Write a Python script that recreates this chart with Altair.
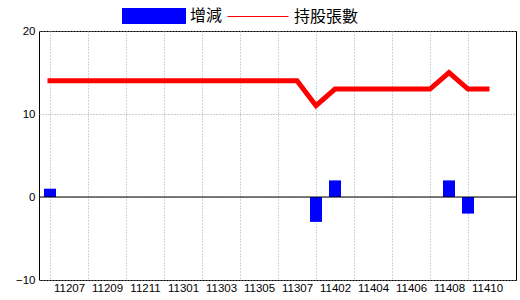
import altair as alt
import pandas as pd

months = ['11206','11207','11208','11209','11210','11211','11212','11301','11302','11303','11304','11305',
          '11306','11307','11401','11402','11403','11404','11405','11406','11407','11408','11409','11410']
changes = [1,0,0,0,0,0,0,0,0,0,0,0,0,0,-3,2,0,0,0,0,0,2,-2,0]
holdings = [14,14,14,14,14,14,14,14,14,14,14,14,14,14,11,13,13,13,13,13,13,15,13,13]
y_ticks = [-10, 0, 10, 20]

df = pd.DataFrame({
    'idx': list(range(len(months))),
    'month': months,
    'change': changes,
    'holdings': holdings,
})
df['s_bar'] = '增減'
df['s_line'] = '持股張數'

labels_js = '[' + ','.join("'" + m + "'" for m in months) + ']'

x_scale = alt.Scale(domain=[-0.579, 24.526], nice=False, zero=False, padding=0)
x_enc = alt.X('idx:Q', scale=x_scale,
              axis=alt.Axis(values=list(range(len(months))), title=None, ticks=False, domain=False,
                            labelExpr=f"datum.value % 2 == 1 ? {labels_js}[datum.value] : ''",
                            labelOverlap=False, labelFlush=False, labelPadding=2,
                            grid=True, gridDash=[1, 2], gridColor='#8fb0c8',
                            gridOpacity={'condition': {'test': 'datum.value % 2 == 0', 'value': 1}, 'value': 0}))
y_scale = alt.Scale(domain=[-10, 20], nice=False)
y_axis = alt.Axis(values=y_ticks, title=None, ticks=False, domain=False, labelPadding=4,
                  grid=True, gridDash=[1, 2], gridColor='#999999')

bars = alt.Chart(df).transform_filter('datum.change != 0').mark_bar(size=12).encode(
    x=x_enc,
    y=alt.Y('change:Q', scale=y_scale, axis=y_axis),
    color=alt.Color('s_bar:N', scale=alt.Scale(domain=['增減'], range=['#0000ff']),
                    legend=alt.Legend(orient='none', legendX=83, legendY=-47, title=None, padding=0,
                                      symbolType='M-1,-0.25H1V0.25H-1Z', symbolSize=4096,
                                      symbolStrokeWidth=0, labelOffset=4,
                                      labelFont='Noto Sans CJK TC', labelFontSize=16, labelColor='#000000')),
)

zero = alt.Chart(pd.DataFrame({'z': [0]})).mark_rule(color='#000000', strokeWidth=1).encode(
    y=alt.Y('z:Q', scale=y_scale)
)

line = alt.Chart(df).mark_line(strokeWidth=5, strokeCap='square').encode(
    x=x_enc,
    y=alt.Y('holdings:Q', scale=y_scale, axis=y_axis),
    stroke=alt.Stroke('s_line:N', scale=alt.Scale(domain=['持股張數'], range=['#ff0000']),
                      legend=alt.Legend(orient='none', legendX=188, legendY=-45.5, title=None, padding=0,
                                        symbolType='stroke', symbolSize=3721, symbolStrokeWidth=1,
                                        labelOffset=5,
                                        labelFont='Noto Sans CJK TC', labelFontSize=16, labelColor='#000000')),
)

chart = alt.layer(bars, zero, line).properties(
    width=477, height=249,
    autosize=alt.AutoSizeParams(type='none'),
    padding={'left': 39, 'top': 31, 'right': 4, 'bottom': 20},
).configure_view(stroke='#000000', strokeWidth=1).configure_axis(
    labelFont='Liberation Sans', labelFontSize=11.5,
    labelColor='#000000'
)

chart.save('out.html', embed_options={'renderer': 'svg', 'actions': False})
